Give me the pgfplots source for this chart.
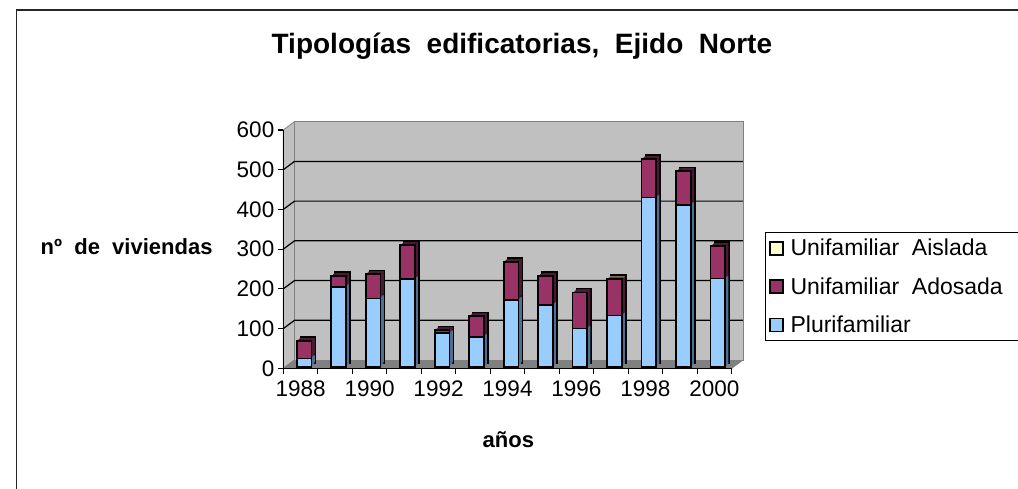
\documentclass[border=0pt]{standalone}
\usepackage{pgfplots}
\pgfplotsset{compat=1.18}
\usepackage{pgfplotstable}
\usepackage{fontspec}
\setmainfont{Liberation Sans}[WordSpace=2]

\definecolor{plur}{HTML}{99CCFF}
\definecolor{ados}{HTML}{993366}
\definecolor{aisl}{HTML}{FFFFCC}
\definecolor{plurD}{HTML}{4F6F92}
\definecolor{adosD}{HTML}{4C1933}
\definecolor{aislD}{HTML}{9A9A70}
\definecolor{wall}{HTML}{C0C0C0}
\definecolor{floorc}{HTML}{808080}

\pgfplotstableread{
i plur ados aisl
0 21 44 0
1 200 28 0
2 172 61 0
3 220 86 0
4 84 8 0
5 75 52 0
6 168 96 0
7 155 73 0
8 96 91 0
9 129 91 2
10 426 97 0
11 407 85 0
12 222 82 0
}\datatable

\pgfplotsset{
  barsbase/.style={scale only axis, width=448.4bp, height=238.3bp,
    xmin=-0.5, xmax=12.5, ymin=0, ymax=600, hide axis, clip=false,
    ybar stacked, bar width=14.7bp, anchor=south west},
  sqlegend/.style={legend image code/.code={\draw[##1, line width=1.3bp] (0bp,-6.5bp) rectangle (13bp,6.5bp);}},
}

\newcommand{\barlayer}[5]{%
\begin{axis}[barsbase, at={(#1,#2)}]
\addplot[#3] table[x=i,y=plur]{\datatable};
\addplot[#4] table[x=i,y=ados]{\datatable};
\addplot[#5] table[x=i,y=aisl]{\datatable};
\end{axis}}

\begin{document}
\begin{tikzpicture}
\path[use as bounding box] (0,0) rectangle (1018bp,489bp);
\fill[white] (0,0) rectangle (1018bp,489bp);
\draw[line width=1.4bp, black!85] (16.5bp,-5bp) -- (16.5bp,479bp) -- (1030bp,479bp);

% frame axis: walls, floor, grid, ticks, labels
\begin{axis}[scale only axis, width=448.4bp, height=238.3bp,
  at={(283.3bp,120.7bp)}, anchor=south west,
  xmin=-0.5, xmax=12.5, ymin=0, ymax=600, clip=false, axis on top,
  axis x line*=bottom, axis y line*=left,
  axis line style={-, black, line width=1.2bp},
  tick align=outside, major tick length=5.5bp,
  tick style={black, line width=1.1bp},
  ytick={0,100,...,600},
  xtick={-0.5,0.5,...,12.5}, x tick label as interval,
  xticklabels={1988,,1990,,1992,,1994,,1996,,1998,,2000},
  ticklabel style={font=\fontsize{22.5bp}{26bp}\selectfont},
  xticklabel style={yshift=-3bp},
  /pgf/number format/assume math mode=true,
  xlabel={años}, ylabel={nº de viviendas},
  label style={font=\bfseries\fontsize{22bp}{26bp}\selectfont},
  xlabel style={at={(axis description cs:0.502,-0.301)}, anchor=center},
  ylabel style={rotate=-90, at={(axis description cs:-0.15,0.509)}, anchor=east},
  title={Tipologías edificatorias, Ejido Norte},
  title style={font=\bfseries\fontsize{28bp}{32bp}\selectfont,
    at={(axis description cs:0.532,1.327)}, anchor=center},
]
\addplot[fill=wall, draw=floorc, line width=0.8bp] coordinates {(-0.5,0) (-0.5,600) (-0.175,620.9) (-0.175,20.9)} --cycle;
\addplot[fill=floorc, draw=floorc, line width=0.8bp] coordinates {(-0.5,0) (12.5,0) (12.825,20.9) (-0.175,20.9)} --cycle;
\addplot[fill=wall, draw=floorc, line width=0.8bp] coordinates {(-0.175,20.9) (12.825,20.9) (12.825,620.9) (-0.175,620.9)} --cycle;
\addplot[black, line width=1.2bp] coordinates {(-0.5,100) (-0.175,120.9) (12.825,120.9)};
\addplot[black, line width=1.2bp] coordinates {(-0.5,200) (-0.175,220.9) (12.825,220.9)};
\addplot[black, line width=1.2bp] coordinates {(-0.5,300) (-0.175,320.9) (12.825,320.9)};
\addplot[black, line width=1.2bp] coordinates {(-0.5,400) (-0.175,420.9) (12.825,420.9)};
\addplot[black, line width=1.2bp] coordinates {(-0.5,500) (-0.175,520.9) (12.825,520.9)};
\end{axis}

% bar depth (side and top faces)
\barlayer{290.8bp}{126.1bp}{fill=plurD, draw=black, line width=1.7bp}{fill=adosD, draw=black, line width=1.7bp}{fill=aislD, draw=black, line width=1.7bp}
\barlayer{289.8bp}{125.1bp}{fill=plurD, draw=none}{fill=adosD, draw=none}{fill=aislD, draw=none}
\barlayer{288.8bp}{124.2bp}{fill=plurD, draw=none}{fill=adosD, draw=none}{fill=aislD, draw=none}
\barlayer{287.8bp}{123.2bp}{fill=plurD, draw=none}{fill=adosD, draw=none}{fill=aislD, draw=none}

% front faces and legend
\begin{axis}[barsbase, at={(286.8bp,122.3bp)},
  reverse legend, legend cell align=left,
  legend style={at={(axis description cs:1.066,0.566)}, anchor=north west,
    draw=black, line width=1bp, fill=white,
    inner xsep=4bp, inner ysep=4bp, nodes={inner sep=3bp},
    /tikz/every odd column/.append style={column sep=4bp},
    font=\fontsize{23bp}{27bp}\selectfont, row sep=14bp},
]
\addplot[fill=plur, draw=black, line width=1.7bp, sqlegend] table[x=i,y=plur]{\datatable};
\addlegendentry{Plurifamiliar}
\addplot[fill=ados, draw=black, line width=1.7bp, sqlegend] table[x=i,y=ados]{\datatable};
\addlegendentry{\makebox[250bp][l]{Unifamiliar Adosada}}
\addplot[fill=aisl, draw=black, line width=1.7bp, sqlegend] table[x=i,y=aisl]{\datatable};
\addlegendentry{Unifamiliar Aislada}
\end{axis}
\end{tikzpicture}
\end{document}
